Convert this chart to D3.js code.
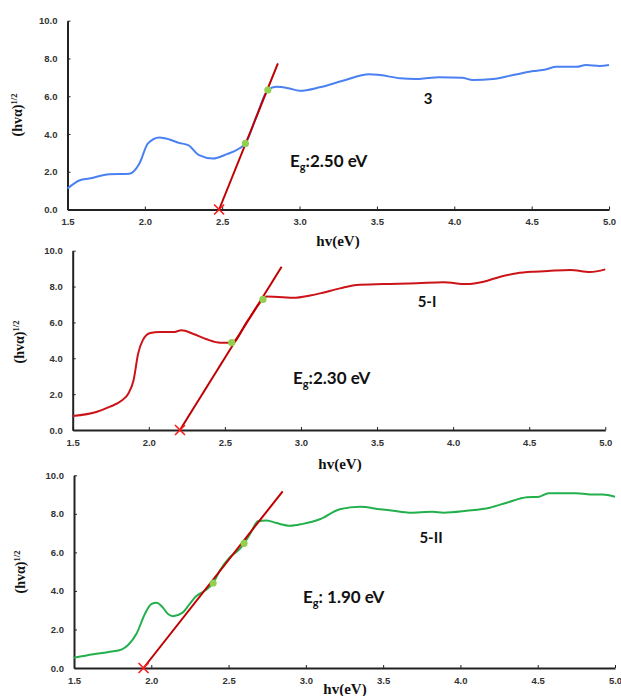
<!DOCTYPE html>
<html lang="en">
<head>
<meta charset="UTF-8">
<title>Tauc plots</title>
<script src="https://d3js.org/d3.v7.min.js"></script>
<style>
  body { margin: 0; background: #fff; }
  .tick text { font-family: "Liberation Sans", Arial, sans-serif; font-weight: bold; font-size: 9.5px; fill: #333; }
  .axis path, .axis line { stroke: #222; }
  .axis path { stroke-width: 2px; }
  .xlabel, .ylabel { font-family: "Liberation Serif", "Times New Roman", serif; font-weight: bold; fill: #111; }
  .note { font-family: Lato, "Open Sans", sans-serif; font-weight: bold; fill: #111; }
</style>
</head>
<body>
<svg id="chart" width="621" height="696"></svg>
<script>
// ---- data ----
const xTicks = [1.5, 2.0, 2.5, 3.0, 3.5, 4.0, 4.5, 5.0];
const yTicks = [0, 2, 4, 6, 8, 10];

// sample 3 (blue)
const hv3 = [1.5, 1.58, 1.64, 1.77, 1.9, 1.965, 2.02, 2.095, 2.16, 2.22, 2.28, 2.35, 2.44, 2.53, 2.61, 2.65, 2.72, 2.795, 2.85, 2.93, 3.0, 3.13, 3.28, 3.45, 3.52, 3.65, 3.75, 3.83, 3.9, 4.05, 4.12, 4.25, 4.38, 4.51, 4.59, 4.66, 4.79, 4.85, 4.94, 5.0];
const ab3 = [1.11, 1.55, 1.64, 1.87, 1.9, 2.44, 3.5, 3.82, 3.71, 3.53, 3.41, 2.88, 2.70, 2.93, 3.23, 3.5, 4.9, 6.33, 6.5, 6.42, 6.29, 6.47, 6.82, 7.17, 7.12, 6.95, 6.91, 6.96, 7.0, 6.98, 6.86, 6.91, 7.12, 7.33, 7.42, 7.56, 7.56, 7.65, 7.6, 7.65];

// sample 5-I (red)
const hv5i = [1.5, 1.66, 1.745, 1.82, 1.866, 1.9, 1.93, 1.96, 2.01, 2.07, 2.16, 2.215, 2.29, 2.38, 2.47, 2.545, 2.65, 2.75, 2.775, 2.88, 2.95, 3.06, 3.125, 3.256, 3.366, 3.54, 3.76, 3.935, 4.09, 4.2, 4.31, 4.42, 4.53, 4.64, 4.77, 4.9, 5.0];
const ab5i = [0.78, 1.02, 1.30, 1.63, 2.04, 2.78, 4.26, 5.0, 5.41, 5.46, 5.46, 5.56, 5.37, 5.06, 4.87, 4.87, 6.1, 7.28, 7.44, 7.41, 7.37, 7.5, 7.62, 7.9, 8.09, 8.14, 8.18, 8.24, 8.14, 8.27, 8.55, 8.74, 8.83, 8.88, 8.92, 8.81, 8.96];

// sample 5-II (green)
const hv5ii = [1.5, 1.625, 1.733, 1.81, 1.85, 1.905, 1.96, 2.0, 2.035, 2.067, 2.11, 2.14, 2.2, 2.25, 2.29, 2.35, 2.4, 2.445, 2.51, 2.574, 2.6, 2.64, 2.69, 2.745, 2.81, 2.9, 2.98, 3.09, 3.22, 3.35, 3.48, 3.565, 3.67, 3.82, 3.89, 4.04, 4.19, 4.3, 4.43, 4.51, 4.57, 4.69, 4.75, 4.84, 4.92, 5.0];
const ab5ii = [0.53, 0.71, 0.84, 0.97, 1.19, 1.79, 2.83, 3.31, 3.38, 3.21, 2.79, 2.69, 2.86, 3.34, 3.72, 4.03, 4.41, 5.07, 5.76, 6.19, 6.47, 6.97, 7.62, 7.66, 7.52, 7.38, 7.48, 7.72, 8.24, 8.37, 8.24, 8.16, 8.06, 8.11, 8.06, 8.16, 8.32, 8.58, 8.86, 8.89, 9.07, 9.07, 9.07, 9.01, 9.01, 8.89];

// linear fits: [x0, y0, x1, y1], fit points, band gap labels
const fit3 = [2.48, 0, 2.86, 7.74];
const fit5i = [2.205, 0, 2.873, 9.11];
const fit5ii = [1.95, 0, 2.85, 9.17];
const dots3 = [[2.65, 3.5], [2.795, 6.33]];
const dots5i = [[2.545, 4.87], [2.75, 7.28]];
const dots5ii = [[2.40, 4.41], [2.60, 6.47]];
const names = ["3", "5-I", "5-II"];
const gaps = [":2.50 eV", ":2.30 eV", ": 1.90 eV"];

// ---- layout ----
const panels = [
  { hv: hv3, ab: ab3, fit: fit3, dots: dots3, color: "#4a80f2",
    x0: 67.5, x1: 609, yTop: 20.7, yBot: 209.5, ylab: [22, 115], xlab: [338, 246],
    name: [428, 104], gap: [290, 167] },
  { hv: hv5i, ab: ab5i, fit: fit5i, dots: dots5i, color: "#cc1418",
    x0: 72.7, x1: 605.3, yTop: 250.7, yBot: 430, ylab: [24, 342], xlab: [340, 469],
    name: [427, 307], gap: [293, 384] },
  { hv: hv5ii, ab: ab5ii, fit: fit5ii, dots: dots5ii, color: "#22b04c",
    x0: 74, x1: 615, yTop: 475.3, yBot: 668, ylab: [25, 572], xlab: [345, 694],
    name: [431, 543], gap: [303, 603] }
];

const svg = d3.select("#chart");

panels.forEach((p, i) => {
  const x = d3.scaleLinear().domain([1.5, 5.0]).range([p.x0, p.x1]);
  const y = d3.scaleLinear().domain([0, 10]).range([p.yBot, p.yTop]);
  const g = svg.append("g");

  g.append("g").attr("class", "axis")
    .attr("transform", `translate(0,${p.yBot})`)
    .call(d3.axisBottom(x).tickValues(xTicks).tickFormat(d3.format(".1f")).tickSizeInner(-3).tickSizeOuter(0).tickPadding(9));

  g.append("g").attr("class", "axis")
    .attr("transform", `translate(${p.x0},0)`)
    .call(d3.axisLeft(y).tickValues(yTicks).tickFormat(d3.format(".1f")).tickSizeInner(-3).tickSizeOuter(0).tickPadding(10));

  // curve
  const pts = p.hv.map((v, k) => [v, p.ab[k]]);
  g.append("path").datum(pts)
    .attr("fill", "none").attr("stroke", p.color).attr("stroke-width", 2)
    .attr("d", d3.line().x(d => x(d[0])).y(d => y(d[1])).curve(d3.curveMonotoneX));

  // fit line
  g.append("line")
    .attr("x1", x(p.fit[0])).attr("y1", y(p.fit[1]))
    .attr("x2", x(p.fit[2])).attr("y2", y(p.fit[3]))
    .attr("stroke", "#c00000").attr("stroke-width", 2);

  // intercept cross
  const cx = x(p.fit[0]), cy = y(p.fit[1]), s = 5;
  g.append("path")
    .attr("d", `M${cx - s},${cy - s}L${cx + s},${cy + s}M${cx - s},${cy + s}L${cx + s},${cy - s}`)
    .attr("stroke", "#ff1a1a").attr("stroke-width", 1.6);

  g.selectAll(".dot").data(p.dots).join("circle")
    .attr("cx", d => x(d[0])).attr("cy", d => y(d[1])).attr("r", 3.6)
    .attr("fill", "#92d050");

  // labels
  g.append("text").attr("class", "xlabel")
    .attr("x", p.xlab[0]).attr("y", p.xlab[1]).attr("text-anchor", "middle")
    .attr("font-size", 15).text("hv(eV)");

  const yl = g.append("text").attr("class", "ylabel")
    .attr("transform", `translate(${p.ylab[0]},${p.ylab[1]}) rotate(-90)`)
    .attr("text-anchor", "middle").attr("font-size", 14);
  yl.append("tspan").text("(hvα)");
  yl.append("tspan").attr("dy", -5).attr("font-size", 8.5).text("1/2");

  g.append("text").attr("class", "note")
    .attr("x", p.name[0]).attr("y", p.name[1]).attr("text-anchor", "middle")
    .attr("font-size", 15).text(names[i]);

  const eg = g.append("text").attr("class", "note")
    .attr("x", p.gap[0]).attr("y", p.gap[1]).attr("font-size", 17);
  eg.append("tspan").text("E");
  eg.append("tspan").attr("dy", 4).attr("font-size", 11).text("g");
  eg.append("tspan").attr("dy", -4).text(gaps[i]);
});
</script>
</body>
</html>
